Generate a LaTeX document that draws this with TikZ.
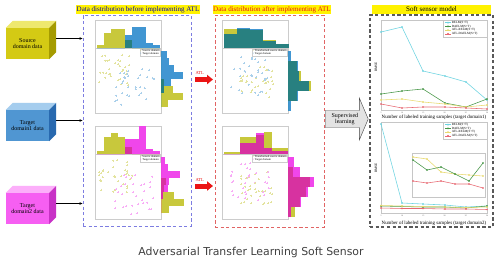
\documentclass[tikz,border=0pt]{standalone}
\usepackage{fontspec}
\setmainfont{Liberation Serif}
\newfontfamily\captionfont{DejaVu Sans}
\usetikzlibrary{arrows.meta,shapes.arrows,positioning,calc}

\definecolor{histY}{RGB}{200,200,60}
\definecolor{histB}{RGB}{65,150,210}
\definecolor{overB}{RGB}{40,128,128}
\definecolor{histM}{RGB}{240,70,235}
\definecolor{overM}{RGB}{215,50,160}
\definecolor{srcF}{RGB}{212,202,20}
\definecolor{srcT}{RGB}{238,232,110}
\definecolor{srcS}{RGB}{165,155,0}
\definecolor{tgaF}{RGB}{80,150,210}
\definecolor{tgaT}{RGB}{165,205,238}
\definecolor{tgaS}{RGB}{40,105,175}
\definecolor{tgbF}{RGB}{246,95,242}
\definecolor{tgbT}{RGB}{252,175,250}
\definecolor{tgbS}{RGB}{200,50,198}
\definecolor{atlRed}{RGB}{235,20,20}
\definecolor{beforeC}{RGB}{125,125,225}
\definecolor{afterC}{RGB}{225,100,100}
\definecolor{cRelm}{RGB}{110,212,225}
\definecolor{cDaelm}{RGB}{70,150,70}
\definecolor{cAtlRelm}{RGB}{232,218,110}
\definecolor{cAtlDaelm}{RGB}{232,105,115}

\tikzset{
  panelframe/.style={draw=gray!40, line width=0.3pt},
  scatterpt/.style={line width=0.3pt},
  panellegend/.style={draw=gray!40, fill=white, inner sep=0.6pt, align=left, font=\fontsize{4}{4.5}\selectfont},
}

% one histogram/scatter panel: x, y, colour key, separated?, top bin width, top bins, right bin width, right bins, seed
\newcommand{\histpanel}[9]{%
  \begin{scope}[shift={(#1,#2)}]
    \draw[panelframe] (0,0) rectangle (66,28);
    \draw[panelframe] (0,28) rectangle (66,93);
    \foreach \hy/\ho [count=\k from 0] in {#6} {
      \pgfmathsetmacro\bx{2+\k*#5}
      \pgfmathsetmacro\hm{min(\hy,\ho)}
      \fill[histY] (\bx,28) rectangle ++(#5,-\hy);
      \fill[hist#3] (\bx,28) rectangle ++(#5,-\ho);
      \fill[over#3] (\bx,28) rectangle ++(#5,-\hm);
    }
    \foreach \hy/\ho [count=\k from 0] in {#8} {
      \pgfmathsetmacro\by{31+\k*#7}
      \pgfmathsetmacro\hm{min(\hy,\ho)}
      \fill[histY] (66,\by) rectangle ++(\hy,#7);
      \fill[hist#3] (66,\by) rectangle ++(\ho,#7);
      \fill[over#3] (66,\by) rectangle ++(\hm,#7);
    }
    \pgfmathsetseed{#9}
    \foreach \i in {1,...,32} {
      \pgfmathsetmacro\px{4+rnd*34+(1-#4)*14}
      \pgfmathsetmacro\py{34+rnd*32+(1-#4)*12}
      \draw[scatterpt, histY!50!white] (\px-1,\py) -- (\px+1,\py) (\px,\py-1) -- (\px,\py+1);
      \pgfmathsetmacro\qx{20+rnd*40-(1-#4)*12}
      \pgfmathsetmacro\qy{48+rnd*40-(1-#4)*12}
      \draw[scatterpt, hist#3!45!white] (\qx-1,\qy) -- (\qx+1,\qy) (\qx,\qy-1) -- (\qx,\qy+1);
    }
    \node[panellegend, anchor=north east] (leg#9) at (65,29)
      {\textcolor{histY}{+} \ifnum#4=1 Source domain\else Transformed source domain\fi\\
       \textcolor{hist#3}{+} Target domain};
  \end{scope}}

\begin{document}
\begin{tikzpicture}[x=0.05cm, y=-0.05cm,
    cube/.style={minimum width=2.15cm, minimum height=1.55cm, inner sep=1pt, align=center, font=\fontsize{8.5}{9.5}\selectfont},
    feed/.style={-{Stealth[length=1.6mm, width=1.3mm]}, line width=0.6pt},
    beforebox/.style={draw=beforeC, dash pattern=on 4.5pt off 3.5pt, line width=1.3pt, minimum width=5.4cm, minimum height=10.55cm},
    afterbox/.style={draw=afterC, dash pattern=on 4.5pt off 3.5pt, line width=1.3pt, minimum width=5.45cm, minimum height=10.6cm},
    softbox/.style={draw=gray!70!black, dash pattern=on 4.5pt off 3.5pt, line width=1.8pt, minimum width=6.15cm, minimum height=10.6cm},
    titlebar/.style={fill=yellow, inner sep=0.5pt, minimum height=0.45cm, font=\fontsize{10}{11}\selectfont},
    atlline/.style={draw=atlRed, line width=0.25cm, -{Triangle[length=0.3cm, width=0.46cm]}},
    atllabel/.style={text=atlRed, font=\fontsize{6.5}{7}\selectfont, inner sep=0pt},
    suparrow/.style={single arrow, fill=gray!22, draw=gray!55!black, line width=0.6pt, minimum height=2.15cm, minimum width=2.1cm, single arrow head extend=0.5cm, single arrow tip angle=134, align=center, inner sep=1pt, font=\fontsize{8.5}{9}\selectfont},
    axisframe/.style={draw=gray!45, line width=0.35pt},
    relm/.style={draw=cRelm, line width=0.8pt, mark=*, mark size=0.8pt, mark options={fill=cRelm, draw=cRelm}},
    daelm/.style={draw=cDaelm, line width=0.8pt, mark=*, mark size=0.8pt, mark options={fill=cDaelm, draw=cDaelm}},
    atlrelm/.style={draw=cAtlRelm, line width=0.8pt, mark=*, mark size=0.8pt, mark options={fill=cAtlRelm, draw=cAtlRelm}},
    atldaelm/.style={draw=cAtlDaelm, line width=0.8pt, mark=*, mark size=0.8pt, mark options={fill=cAtlDaelm, draw=cAtlDaelm}},
    legendbox/.style={draw=gray!45, fill=white, minimum width=2.2cm, minimum height=0.85cm, line width=0.3pt},
    legtext/.style={font=\fontsize{4.5}{5}\selectfont, inner sep=0.3pt},
    ticklabel/.style={font=\fontsize{2.8}{3}\selectfont, text=gray!60!black, inner sep=0pt},
    axislabel/.style={font=\fontsize{7}{8}\selectfont, inner sep=0pt},
    captiontext/.style={font=\captionfont\fontsize{15.5}{17}\selectfont, text=black!75}
]
    \path[use as bounding box, fill=white] (0,0) rectangle (500,262);

    % Input data cubes
    \node[cube, fill=srcF] (src) at (27.5,43.5) {Source\\domain data};
    \fill[srcT] (src.north west) -- ++(7,-7) -- ($(src.north east)+(7,-7)$) -- (src.north east) -- cycle;
    \fill[srcS] (src.north east) -- ++(7,-7) -- ($(src.south east)+(7,-7)$) -- (src.south east) -- cycle;
    \node[cube, fill=tgaF] (tga) at (27.5,125.5) {Target\\domain1 data};
    \fill[tgaT] (tga.north west) -- ++(7,-7) -- ($(tga.north east)+(7,-7)$) -- (tga.north east) -- cycle;
    \fill[tgaS] (tga.north east) -- ++(7,-7) -- ($(tga.south east)+(7,-7)$) -- (tga.south east) -- cycle;
    \node[cube, fill=tgbF] (tgb) at (27.5,208.5) {Target\\domain2 data};
    \fill[tgbT] (tgb.north west) -- ++(7,-7) -- ($(tgb.north east)+(7,-7)$) -- (tgb.north east) -- cycle;
    \fill[tgbS] (tgb.north east) -- ++(7,-7) -- ($(tgb.south east)+(7,-7)$) -- (tgb.south east) -- cycle;

    % Dashed areas and titles
    \node[beforebox] (before) at (137,120.5) {};
    \node[afterbox] (after) at (269.5,121) {};
    \node[softbox] (soft) at (431.5,121) {};
    \node[titlebar, text=blue!70!black] (beforeT) at (138,9.5) {Data distribution before implementing ATL};
    \node[titlebar, text=atlRed] (afterT) at (272,9.5) {Data distribution after implementing ATL};
    \node[titlebar, minimum width=5.95cm] (softT) at (431.5,9.5) {Soft sensor model};

    \draw[feed] ($(src.east)+(7,-5)$) coordinate (srcOut) -- (srcOut -| before.west);
    \draw[feed] ($(tga.east)+(7,-5)$) coordinate (tgaOut) -- (tgaOut -| before.west);
    \draw[feed] ($(tgb.east)+(7,-5)$) coordinate (tgbOut) -- (tgbOut -| before.west);

    % Distributions
    \histpanel{95}{20}{B}{1}{7}{3/0,15/0,19/0,19/0,8/13,0/21,0/21,0/5,0/3}{7}{0/6,0/8,0/13,0/22,3/10,12/3,22/0,7/0}{11}
    \histpanel{95}{126}{M}{1}{7}{3/0,17/0,21/0,17/0,7/15,0/15,0/28,0/5,0/3}{7}{0/4,0/7,0/19,5/8,3/7,13/2,23/0,8/0}{23}
    \histpanel{222}{20}{B}{0}{13}{19/14,19/20,18/19,8/7,4/4}{10}{0/3,9/10,13/11,23/21,9/10,0/3}{37}
    \histpanel{222}{126}{M}{0}{8}{2/0,2/0,17/11,17/11,19/21,22/6,6/3,6/3}{10}{0/6,5/12,22/26,18/20,12/13,7/3}{41}

    % ATL arrows
    \coordinate (atlAs) at (195,79.5);
    \coordinate (atlBs) at (195,186);
    \draw[atlline] (atlAs) -- ++(18,0);
    \draw[atlline] (atlBs) -- ++(18,0);
    \node[atllabel, anchor=south west] (atlAL) at ($(atlAs)+(0.5,-4.5)$) {ATL};
    \node[atllabel, anchor=south west] (atlBL) at ($(atlBs)+(0.5,-4.5)$) {ATL};

    \node[suparrow, anchor=tail] (sup) at (325,119) {Supervised\\learning};

    % Soft sensor charts
    \draw[axisframe] (381,20) rectangle (487,110);
    \draw[axisframe] (381,122) rectangle (487,213);
    \draw[relm] plot coordinates {(381,32) (402,27) (423,71) (445,76) (466,82) (487,100)};
    \draw[daelm] plot coordinates {(381,94) (402,91) (423,89) (445,103) (466,107) (487,99)};
    \draw[atlrelm] plot coordinates {(381,100) (402,99) (423,102) (445,104) (466,107) (487,105)};
    \draw[atldaelm] plot coordinates {(381,104) (402,108) (423,107) (445,107) (466,108) (487,109)};
    \draw[relm] plot coordinates {(381,124) (402,203) (423,204) (445,205) (466,207) (487,206)};
    \draw[daelm] plot coordinates {(381,206) (402,206.5) (423,207) (445,207) (466,208) (487,206)};
    \draw[atlrelm] plot coordinates {(381,205.5) (402,206) (423,206.5) (445,207) (466,207.5) (487,207)};
    \draw[atldaelm] plot coordinates {(381,208) (402,208.5) (423,208.5) (445,209) (466,209) (487,209.5)};

    \draw[axisframe, fill=white] (412,153) rectangle (485,197);
    \draw[atlrelm] plot coordinates {(413,157) (427,159) (441,172) (455,174) (469,175) (483,176)};
    \draw[daelm] plot coordinates {(413,160) (427,170) (441,167) (455,174) (469,181) (483,163)};
    \draw[atldaelm] plot coordinates {(413,181) (427,183) (441,181) (455,184) (469,184) (483,188)};

    \node[legendbox] (legA) at (465,28.5) {};
    \node[legendbox] (legB) at (465,130.5) {};
    \foreach \st/\tx [count=\k] in {relm/RELM(S+T), daelm/DAELM(S+T), atlrelm/ATL-RELM(S+T), atldaelm/ATL-DAELM(S+T)} {
        \draw[\st] (445,19+\k*3.7) -- (451,19+\k*3.7);
        \path[\st] plot coordinates {(448,19+\k*3.7)};
        \node[legtext, anchor=west] (legA\k) at (451.5,19+\k*3.7) {\tx};
        \draw[\st] (445,121+\k*3.7) -- (451,121+\k*3.7);
        \path[\st] plot coordinates {(448,121+\k*3.7)};
        \node[legtext, anchor=west] (legB\k) at (451.5,121+\k*3.7) {\tx};
    }

    \foreach \v [count=\k from 0] in {5,10,15,20,25,30} {
        \node[ticklabel] (tickA\k) at (381+\k*21.2,112.5) {\v};
        \node[ticklabel] (tickB\k) at (381+\k*21.2,215.5) {\v};
    }
    \node[axislabel, rotate=90, font=\fontsize{5}{6}\selectfont] (rmseA) at (376,67) {RMSE};
    \node[axislabel, rotate=90, font=\fontsize{5}{6}\selectfont] (rmseB) at (376,168) {RMSE};
    \node[axislabel] (xlabA) at (434,117.5) {Number of labeled training samples (target domain1)};
    \node[axislabel] (xlabB) at (434,223) {Number of labeled training samples (target domain2)};

    \node[captiontext] (caption) at (251,252) {Adversarial Transfer Learning Soft Sensor};
\end{tikzpicture}
\end{document}
